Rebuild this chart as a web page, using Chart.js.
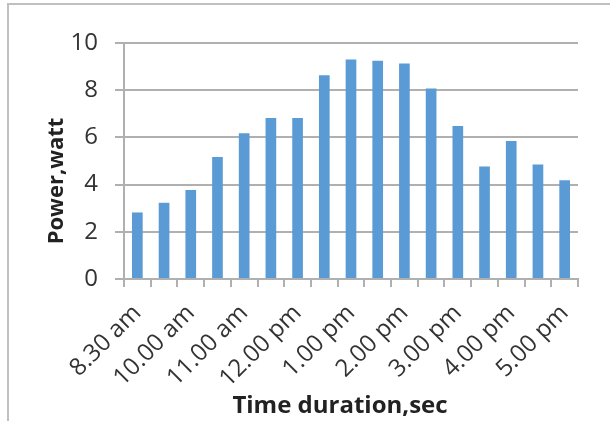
<!DOCTYPE html>
<html>
<head>
<meta charset="utf-8">
<script src="https://cdn.jsdelivr.net/npm/chart.js@4"></script>
<style>
  body { margin: 0; background: #fff; }
  #wrap { position: relative; width: 610px; height: 421px; }
  #frame {
    position: absolute; left: 7px; top: 3px; right: -2px; bottom: -2px;
    border-top: 2px solid #c0c0c0; border-left: 2px solid #c0c0c0;
    pointer-events: none;
  }
</style>
</head>
<body>
<div id="wrap">
  <canvas id="powerChart" width="610" height="421"></canvas>
  <div id="frame"></div>
</div>
<script>
const timeLabels = [
  "8.30 am", "9.30 am", "10.00 am", "10.30 am", "11.00 am", "11.30 am",
  "12.00 pm", "12.30 pm", "1.00 pm", "1.30 pm", "2.00 pm", "2.30 pm",
  "3.00 pm", "3.30 pm", "4.00 pm", "4.30 pm", "5.00 pm",
];
const powerWatt = [
  2.82, 3.23, 3.77, 5.17, 6.18, 6.82, 6.82, 8.63, 9.3,
  9.25, 9.13, 8.07, 6.48, 4.77, 5.85, 4.85, 4.18,
];
const yTicks = [0, 2, 4, 6, 8, 10];
const xTitle = "Time duration,sec";
const yTitle = "Power,watt";

const gridGray = "#b0b0b0";
const textGray = "#333333";
const tickFont = { family: "Open Sans", size: 24 };

// axis titles drawn by hand so they sit where the original has them
const axisTitles = {
  id: "axisTitles",
  afterDraw(chart) {
    const ctx = chart.ctx;
    const area = chart.chartArea;
    ctx.save();
    ctx.fillStyle = "#222222";
    ctx.textAlign = "center";
    ctx.textBaseline = "alphabetic";
    ctx.font = "bold 24px 'Open Sans'";
    ctx.fillText(xTitle, area.left + 216, 413);
    ctx.font = "bold 22px 'Open Sans'";
    ctx.translate(57, area.top + 138);
    ctx.rotate(-Math.PI / 2);
    ctx.textBaseline = "middle";
    ctx.fillText(yTitle, 0, 0);
    ctx.restore();
  },
};

new Chart(document.getElementById("powerChart"), {
  type: "bar",
  data: {
    labels: timeLabels,
    datasets: [
      {
        label: "Power",
        data: powerWatt,
        backgroundColor: "#5b9bd5",
        barPercentage: 0.4,
        categoryPercentage: 1,
      },
    ],
  },
  options: {
    responsive: false,
    animation: false,
    layout: { padding: { top: 43, right: 32, left: 0, bottom: 0 } },
    plugins: {
      legend: { display: false },
      tooltip: { enabled: false },
    },
    scales: {
      x: {
        afterFit: (s) => { s.height = 142; },
        grid: {
          offset: true,
          drawOnChartArea: false,
          drawTicks: true,
          tickLength: 8,
          color: gridGray,
          lineWidth: 2,
        },
        border: { display: true, color: gridGray, width: 2 },
        ticks: {
          autoSkip: false,
          minRotation: 45,
          maxRotation: 45,
          padding: 12,
          color: textGray,
          font: tickFont,
          callback: (v, i) => (i % 2 === 0 ? timeLabels[i] : ""),
        },
      },
      y: {
        min: 0,
        max: 10,
        afterFit: (s) => { s.width = 124; },
        afterBuildTicks: (s) => { s.ticks = yTicks.map((v) => ({ value: v })); },
        grid: {
          color: gridGray,
          lineWidth: 2,
          tickLength: 9,
        },
        border: { display: true, color: gridGray, width: 2 },
        ticks: {
          padding: 17,
          color: textGray,
          font: tickFont,
        },
      },
    },
  },
  plugins: [axisTitles],
});
</script>
</body>
</html>
